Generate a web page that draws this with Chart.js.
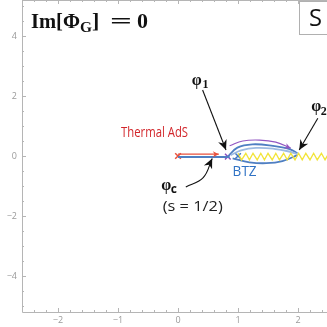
<!DOCTYPE html>
<html>
<head>
<meta charset="utf-8">
<script src="https://cdn.jsdelivr.net/npm/chart.js@4"></script>
<style>
html, body { margin: 0; padding: 0; background: #fff; overflow: hidden; }
#wrap { width: 327px; height: 327px; position: relative; }
</style>
</head>
<body>
<div id="wrap"><canvas id="myChart"></canvas></div>
<script>
// axis ticks
const xTicks = [-2, -1, 0, 1, 2];
const yTicks = [-4, -2, 0, 2, 4];

// flows in the complex plane
const thermalX = [0, 0.68];
const thermalY = [0.06, 0.06];
const btzLineX = [0, 0.86];
const btzLineY = [-0.03, -0.03];
const loopTopX = [0.83, 0.99, 1.24, 1.58, 1.86, 1.99];
const loopTopY = [-0.02, 0.28, 0.39, 0.34, 0.23, 0.09];
const loopInX = [0.88, 1.05, 1.30, 1.60, 1.85, 1.99];
const loopInY = [0.03, 0.19, 0.27, 0.24, 0.15, 0.06];
const loopLowX = [0.91, 1.19, 1.47, 1.74, 1.99];
const loopLowY = [-0.08, -0.21, -0.24, -0.17, 0.03];
const flowX = [0.86, 1.08, 1.36, 1.63, 1.88];
const flowY = [0.34, 0.50, 0.53, 0.46, 0.26];

// branch cut (zigzag vertices)
const cutX = [1.00, 1.06, 1.13, 1.19, 1.25, 1.32, 1.38, 1.44, 1.50, 1.57, 1.63, 1.69, 1.76,
              1.82, 1.88, 1.95, 2.01, 2.07, 2.13, 2.20, 2.26, 2.32, 2.39, 2.45, 2.51];
const cutY = [0.09, -0.13, 0.09, -0.13, 0.09, -0.13, 0.09, -0.13, 0.09, -0.13, 0.09, -0.13, 0.09,
              -0.13, 0.09, -0.13, 0.09, -0.13, 0.09, -0.13, 0.09, -0.13, 0.09, -0.13, 0.09];

// pointer arrows to the labels
const phi1X = [0.41, 0.80];
const phi1Y = [2.20, 0.20];
const phi2X = [2.33, 2.02];
const phi2Y = [1.26, 0.20];
const phicX = [0.13, 0.42, 0.57];
const phicY = [-1.03, -0.72, -0.08];

// saddle points / endpoints
const redMarkX = [0];
const redMarkY = [0];
const purpleMarkX = [0.83];
const purpleMarkY = [-0.02];
const blueMarkX = [1.0];
const blueMarkY = [0.0];

function pts(xs, ys) {
    return xs.map((x, i) => ({ x: x, y: ys[i] }));
}

function lineSet(xs, ys, color, width, extra) {
    return Object.assign({
        data: pts(xs, ys),
        showLine: true,
        borderColor: color,
        backgroundColor: color,
        borderWidth: width,
        pointRadius: 0,
        tension: 0.4
    }, extra || {});
}

function markSet(xs, ys, color) {
    return {
        data: pts(xs, ys),
        showLine: false,
        pointStyle: 'crossRot',
        pointRadius: 4,
        borderColor: color,
        borderWidth: 1.5
    };
}

function fmt(v) {
    return String(v).replace('-', '\u2212');
}

// draws the frame with inward ticks like the original
const framePlugin = {
    id: 'frame',
    beforeDatasetsDraw(chart) {
        const ctx = chart.ctx;
        const a = chart.chartArea;
        const xs = chart.scales.x;
        const ys = chart.scales.y;
        ctx.save();
        ctx.strokeStyle = '#b5b5b5';
        ctx.lineWidth = 1;
        ctx.beginPath();
        ctx.moveTo(a.left + 0.5, a.top);
        ctx.lineTo(a.left + 0.5, a.bottom + 0.5);
        ctx.lineTo(a.right, a.bottom + 0.5);
        ctx.moveTo(a.left, a.top + 0.5);
        ctx.lineTo(a.right, a.top + 0.5);
        for (let v = -2.6; v <= 2.5; v += 0.2) {
            const r = Math.round(v * 10) / 10;
            const len = Number.isInteger(r) ? 4 : 2;
            const px = Math.round(xs.getPixelForValue(r)) + 0.5;
            ctx.moveTo(px, a.bottom);
            ctx.lineTo(px, a.bottom - len);
            ctx.moveTo(px, a.top);
            ctx.lineTo(px, a.top + len);
        }
        for (let v = -5; v <= 5; v += 0.5) {
            const len = yTicks.includes(v) ? 4 : 2;
            const py = Math.round(ys.getPixelForValue(v)) + 0.5;
            ctx.moveTo(a.left, py);
            ctx.lineTo(a.left + len, py);
        }
        ctx.stroke();
        ctx.restore();
    }
};

// arrow heads at the end of flagged datasets
const arrowPlugin = {
    id: 'arrows',
    afterDatasetsDraw(chart) {
        const ctx = chart.ctx;
        chart.data.datasets.forEach((ds, i) => {
            if (!ds.arrowHead) return;
            const pts = chart.getDatasetMeta(i).data;
            const p = pts[pts.length - 1];
            let q = pts[pts.length - 2];
            if (p.cp1x !== undefined && Math.hypot(p.cp1x - p.x, p.cp1y - p.y) > 1) {
                q = { x: p.cp1x, y: p.cp1y };
            }
            const ang = Math.atan2(p.y - q.y, p.x - q.x);
            const L = ds.arrowHead[0], W = ds.arrowHead[1];
            ctx.save();
            ctx.translate(p.x, p.y);
            ctx.rotate(ang);
            ctx.fillStyle = ds.borderColor;
            ctx.beginPath();
            ctx.moveTo(0, 0);
            ctx.lineTo(-L, -W);
            ctx.lineTo(-L * 0.7, 0);
            ctx.lineTo(-L, W);
            ctx.closePath();
            ctx.fill();
            ctx.restore();
        });
    }
};

function drawText(ctx, s, x, y, font, color, w) {
    ctx.save();
    ctx.font = font;
    ctx.fillStyle = color;
    ctx.textBaseline = 'middle';
    ctx.textAlign = 'left';
    ctx.translate(x, y);
    if (w) {
        const m = ctx.measureText(s).width;
        ctx.scale(w / m, 1);
    }
    ctx.fillText(s, 0, 0);
    ctx.restore();
}

const textPlugin = {
    id: 'texts',
    afterDraw(chart) {
        const ctx = chart.ctx;
        const xs = chart.scales.x;
        const ys = chart.scales.y;
        const X = v => xs.getPixelForValue(v);
        const Y = v => ys.getPixelForValue(v);
        const serifB = 'bold 22px "Liberation Serif", serif';

        // title
        drawText(ctx, 'Im[\u03A6', 31, 22, serifB, '#111', 49);
        drawText(ctx, 'G', 80, 28, 'bold 14px "Liberation Serif", serif', '#111', 12);
        drawText(ctx, ']', 92, 22, serifB, '#111');
        drawText(ctx, '=', 110, 22, serifB, '#111', 22);
        drawText(ctx, '0', 137, 22, serifB, '#111', 11);

        // legend box (cut by the edge)
        ctx.save();
        ctx.fillStyle = '#fff';
        ctx.strokeStyle = '#b0b0b0';
        ctx.lineWidth = 1;
        ctx.fillRect(299.5, 1.5, 40, 33);
        ctx.strokeRect(299.5, 1.5, 40, 33);
        ctx.restore();
        drawText(ctx, 'S', 309, 19, '23px "Open Sans", sans-serif', '#111', 13);

        // labels on the plot
        const phiF = 'bold 16px "Liberation Serif", serif';
        const subF = 'bold 12px "Liberation Serif", serif';
        drawText(ctx, '\u03C6', X(0.23), Y(2.5), phiF, '#111');
        drawText(ctx, '1', X(0.41), Y(2.36), subF, '#111');
        drawText(ctx, '\u03C6', X(2.22), Y(1.63), phiF, '#111');
        drawText(ctx, '2', X(2.38), Y(1.48), subF, '#111');
        drawText(ctx, '\u03C6', X(-0.28), Y(-1.0), phiF, '#111');
        drawText(ctx, 'c', X(-0.12), Y(-1.13), 'bold 12px "Open Sans", sans-serif', '#111');
        drawText(ctx, '(s = 1/2)', X(-0.255), Y(-1.69), '14px "Open Sans", sans-serif', '#222', 60);
        drawText(ctx, 'Thermal AdS', X(-0.95), Y(0.76), '14px "Open Sans", sans-serif', '#d2262b', 67);
        drawText(ctx, 'BTZ', X(0.91), Y(-0.52), '15px "Open Sans", sans-serif', '#2f72c4', 24);
    }
};

const ctx = document.getElementById('myChart').getContext('2d');

const myChart = new Chart(ctx, {
    type: 'scatter',
    data: {
        datasets: [
            lineSet(cutX, cutY, '#f2e43a', 1.3, { tension: 0 }),
            lineSet(btzLineX, btzLineY, '#4f7fc2', 2, { tension: 0 }),
            lineSet(thermalX, thermalY, '#e8503c', 1.2, { tension: 0, arrowHead: [6, 3] }),
            lineSet(loopInX, loopInY, '#9dbbe2', 1.8),
            lineSet(loopTopX, loopTopY, '#4f7fc2', 1.8),
            lineSet(loopLowX, loopLowY, '#4f7fc2', 1.8),
            lineSet(flowX, flowY, '#9257c2', 1.2, { arrowHead: [6, 3] }),
            lineSet(phi1X, phi1Y, '#111', 1.1, { tension: 0, arrowHead: [10, 4.5] }),
            lineSet(phi2X, phi2Y, '#111', 1.1, { tension: 0, arrowHead: [10, 4.5] }),
            lineSet(phicX, phicY, '#111', 1.1, { arrowHead: [10, 4.5] }),
            markSet(redMarkX, redMarkY, '#e8503c'),
            markSet(purpleMarkX, purpleMarkY, '#8a4fc0'),
            markSet(blueMarkX, blueMarkY, '#3f76c4')
        ]
    },
    options: {
        responsive: true,
        maintainAspectRatio: false,
        animation: false,
        layout: { padding: 0, autoPadding: false },
        plugins: {
            legend: { display: false },
            tooltip: { enabled: false }
        },
        scales: {
            x: {
                type: 'linear',
                min: -2.6,
                max: 2.483,
                grid: { display: false, drawTicks: false },
                border: { display: false },
                afterBuildTicks: s => { s.ticks = xTicks.map(v => ({ value: v })); },
                afterFit: s => { s.height = 15; s.paddingLeft = 0; s.paddingRight = 0; },
                ticks: {
                    color: '#9a9a9a',
                    font: { size: 9, family: '"Open Sans", sans-serif' },
                    padding: 3,
                    maxRotation: 0,
                    callback: v => fmt(v)
                }
            },
            y: {
                type: 'linear',
                min: -5.2,
                max: 5.2,
                grid: { display: false, drawTicks: false },
                border: { display: false },
                afterBuildTicks: s => { s.ticks = yTicks.map(v => ({ value: v })); },
                afterFit: s => { s.width = 22; s.paddingTop = 0; s.paddingBottom = 0; },
                ticks: {
                    color: '#9a9a9a',
                    font: { size: 9, family: '"Open Sans", sans-serif' },
                    padding: 5,
                    callback: v => fmt(v)
                }
            }
        }
    },
    plugins: [framePlugin, arrowPlugin, textPlugin]
});
</script>
</body>
</html>
